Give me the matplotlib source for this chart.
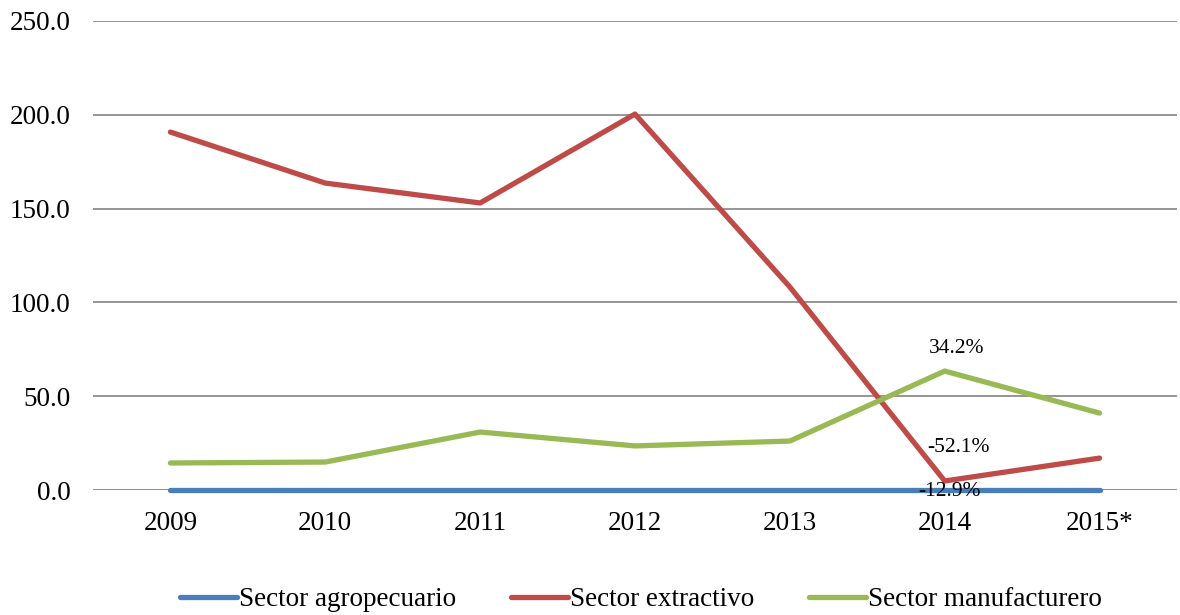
import matplotlib
matplotlib.use("Agg")
import matplotlib.pyplot as plt

years = ["2009", "2010", "2011", "2012", "2013", "2014", "2015*"]
agropecuario = [0.0, 0.0, 0.0, 0.0, 0.0, 0.0, 0.0]
extractivo = [190.8, 163.6, 153.0, 200.4, 108.2, 4.8, 17.0]
manufacturero = [14.4, 14.9, 30.9, 23.5, 26.1, 63.4, 41.0]
labels_2014 = {"manufacturero": "34.2%", "extractivo": "-52.1%", "agropecuario": "-12.9%"}

plt.rcParams['font.family'] = ['Liberation Serif', 'DejaVu Serif']

fig = plt.figure(figsize=(11.8, 6.15), dpi=100)
ax = fig.add_axes([93/1180, 1-490/615, (1177-93)/1180, (490-21)/615])

x = list(range(len(years)))
lw = 3.8
ax.plot(x, agropecuario, color="#4A7EBB", lw=lw, solid_capstyle="round", label="Sector agropecuario", zorder=3, clip_on=False)
ax.plot(x, extractivo, color="#BE4B48", lw=lw, solid_capstyle="round", label="Sector extractivo", zorder=3, clip_on=False)
ax.plot(x, manufacturero, color="#98B954", lw=lw, solid_capstyle="round", label="Sector manufacturero", zorder=3, clip_on=False)

fs = 19.5
ax.set_xlim(-0.5, len(years)-0.5)
ax.set_ylim(0, 250)
ax.set_yticks([0, 50, 100, 150, 200, 250])
ax.set_yticklabels([f"{v:.1f}" for v in [0, 50, 100, 150, 200, 250]], fontsize=fs)
ax.set_xticks(x)
ax.set_xticklabels(years, fontsize=fs)
ax.tick_params(axis='both', length=0)
ax.tick_params(axis='y', pad=16)
ax.tick_params(axis='x', pad=15)
ax.yaxis.grid(True, color="#8C8C8C", lw=1.3)
ax.set_axisbelow(True)
for s in ax.spines.values():
    s.set_visible(False)
ax.axhline(0, color="#8C8C8C", lw=1.3, zorder=1)

i = 5
afs = 15.5
ax.annotate(labels_2014["manufacturero"], (i, manufacturero[i]), xytext=(8.6, 16), textcoords="offset points",
            ha="center", va="center", fontsize=afs)
ax.annotate(labels_2014["extractivo"], (i, extractivo[i]), xytext=(10, 24), textcoords="offset points",
            ha="center", va="center", fontsize=afs)
ax.annotate(labels_2014["agropecuario"], (i, agropecuario[i]), xytext=(3.6, -1.4), textcoords="offset points",
            ha="center", va="center", fontsize=afs, zorder=4, annotation_clip=False)

leg = fig.legend(loc="center", bbox_to_anchor=(641/1180, 1-600/615), ncol=3, frameon=False,
                 fontsize=fs, handlelength=2.1, handletextpad=0.1, columnspacing=2.0)

fig.savefig("out.png", dpi=100)
